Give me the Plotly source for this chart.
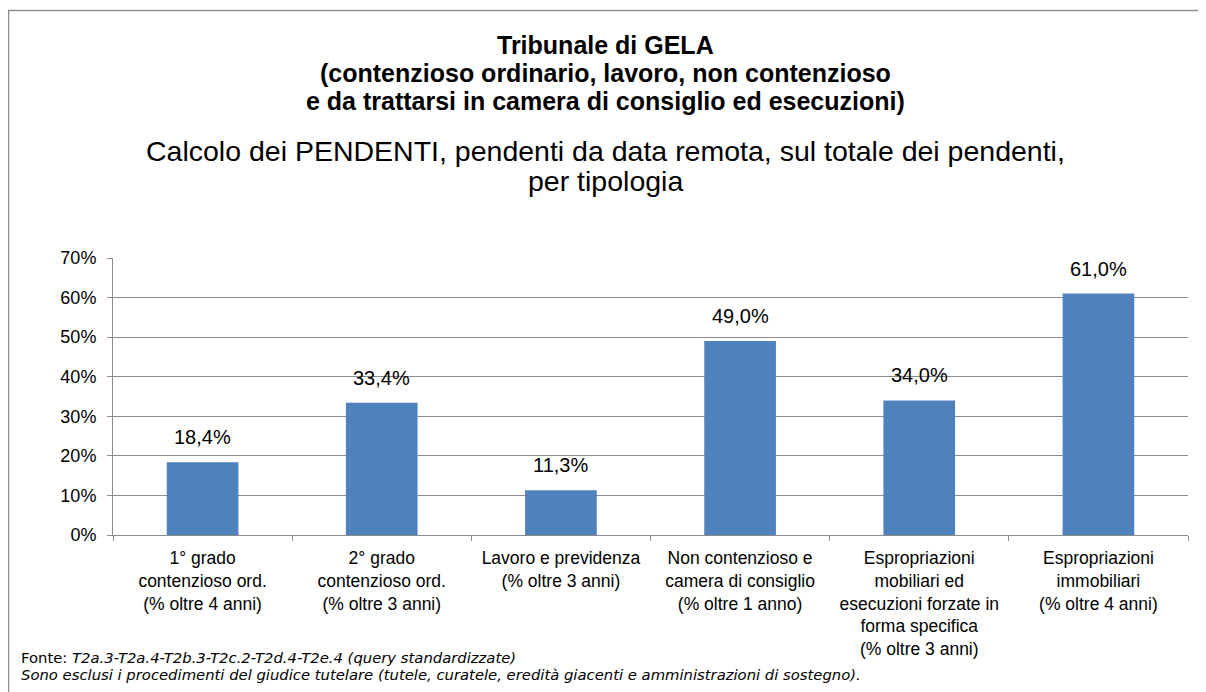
import plotly.graph_objects as go

categories = [
    "1° grado<br>contenzioso ord.<br>(% oltre 4 anni)",
    "2° grado<br>contenzioso ord.<br>(% oltre 3 anni)",
    "Lavoro e previdenza<br>(% oltre 3 anni)",
    "Non contenzioso e<br>camera di consiglio<br>(% oltre 1 anno)",
    "Espropriazioni<br>mobiliari ed<br>esecuzioni forzate in<br>forma specifica<br>(% oltre 3 anni)",
    "Espropriazioni<br>immobiliari<br>(% oltre 4 anni)",
]
values = [18.4, 33.4, 11.3, 49.0, 34.0, 61.0]
labels = [f"{v:.1f}%".replace(".", ",") for v in values]

title_bold = [
    "Tribunale di GELA",
    "(contenzioso ordinario, lavoro, non contenzioso",
    "e da trattarsi in camera di consiglio ed esecuzioni)",
]
title_normal = [
    "Calcolo dei PENDENTI, pendenti da data remota, sul totale dei pendenti,",
    "per tipologia",
]
footer = [
    "Fonte: <i>T2a.3-T2a.4-T2b.3-T2c.2-T2d.4-T2e.4 (query standardizzate)</i>",
    "<i>Sono esclusi i procedimenti del giudice tutelare (tutele, curatele, eredità giacenti e amministrazioni di sostegno).</i>",
]

# page offset (body margin) compensation
OFF = 8
W, H = 1206 - OFF, 692 - OFF
PL, PR, PT, PB = 113, 1188, 258, 535  # plot area in page pixels
L, T = PL - OFF, PT - OFF
R = W - (PR - OFF)
B = H - (PB - OFF)
pw, ph = W - L - R, H - T - B


def px(x):
    return (x - OFF - L) / pw


def py(y):
    return (H - B - (y - OFF)) / ph


fig = go.Figure(
    go.Bar(
        x=categories,
        y=values,
        marker=dict(color="#4F81BD", line=dict(width=0)),
        hoverinfo="skip",
    )
)

annotations = []
for c, v, t in zip(categories, values, labels):
    annotations.append(dict(
        text=t, x=c, y=v, xref="x", yref="y", yanchor="middle", xanchor="center",
        yshift=25, showarrow=False,
        font=dict(family="Liberation Sans, Arial", size=20, color="black")))
for i, t in enumerate(title_bold):
    annotations.append(dict(
        text=f"<b>{t}</b>", x=px(605), y=py(45 + i * 28), xref="paper", yref="paper",
        xanchor="center", yanchor="middle", showarrow=False,
        font=dict(family="Liberation Sans, Arial", size=25, color="black")))
for i, t in enumerate(title_normal):
    annotations.append(dict(
        text=t, x=px(605), y=py(151 + i * 30), xref="paper", yref="paper",
        xanchor="center", yanchor="middle", showarrow=False,
        font=dict(family="Liberation Sans, Arial", size=28.5, color="black")))
for i, t in enumerate(footer):
    annotations.append(dict(
        text=t, x=px(19), y=py(657 + i * 17), xref="paper", yref="paper",
        xanchor="left", yanchor="middle", showarrow=False,
        font=dict(family="DejaVu Sans, Verdana", size=14.8, color="black")))

fig.update_layout(
    width=W, height=H,
    margin=dict(l=L, r=R, t=T, b=B, pad=0),
    paper_bgcolor="white", plot_bgcolor="white",
    showlegend=False,
    bargap=0.6,
    annotations=annotations,
    shapes=[dict(type="rect", xref="paper", yref="paper",
                 x0=px(8.5), x1=px(1230), y0=py(10.5), y1=py(720),
                 line=dict(color="#8f8f8f", width=1.5), fillcolor="rgba(0,0,0,0)", layer="below")],
    font=dict(family="Liberation Sans, Arial", color="black"),
)
fig.update_xaxes(
    showline=True, linecolor="#8c8c8c", linewidth=1,
    ticks="outside", tickson="boundaries", ticklen=5, tickcolor="#8c8c8c",
    tickfont=dict(size=17.5, color="black"), showgrid=False,
    ticklabelstandoff=7,
)
fig.update_yaxes(
    range=[0, 70], dtick=10, ticksuffix="%",
    showline=True, linecolor="#8c8c8c", linewidth=1,
    ticks="outside", ticklen=5, tickcolor="#8c8c8c",
    showgrid=True, gridcolor="#8c8c8c", gridwidth=1,
    tickfont=dict(size=18, color="black"), zeroline=False,
    ticklabelstandoff=7,
)

fig.write_html("out.html")
